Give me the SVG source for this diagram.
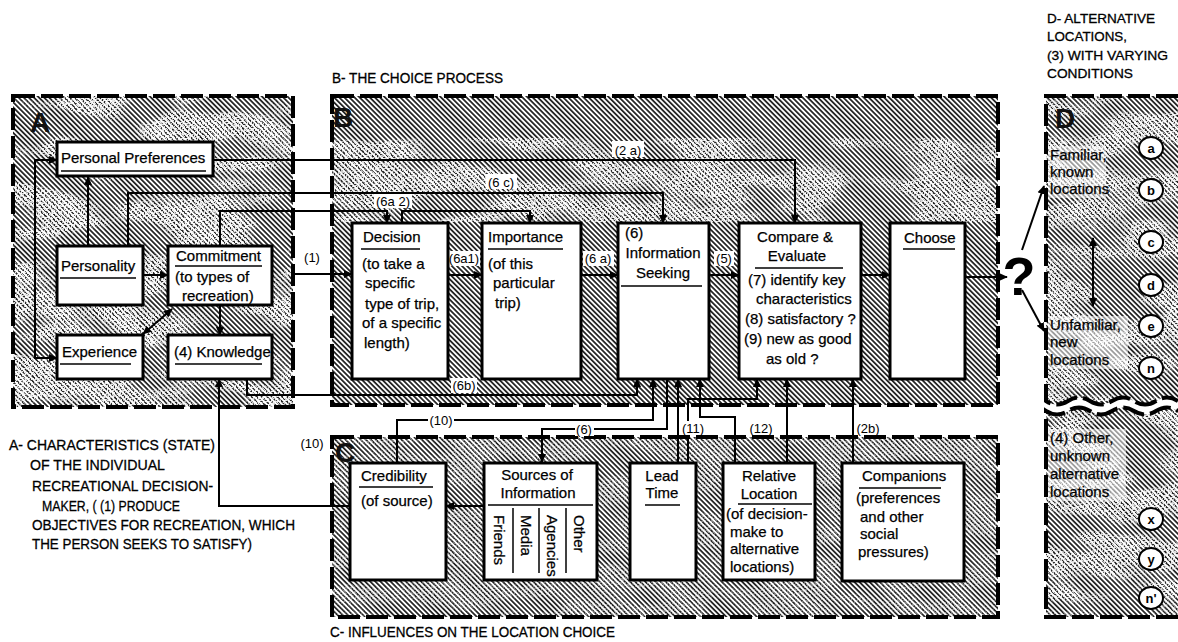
<svg xmlns="http://www.w3.org/2000/svg" width="1178" height="642" viewBox="0 0 1178 642">
<defs>
<pattern id="hatch" width="3.6" height="3.6" patternUnits="userSpaceOnUse" patternTransform="rotate(-45)">
<rect width="3.6" height="3.6" fill="#fff"/>
<line x1="1.8" y1="-1" x2="1.8" y2="5" stroke="#1a1a1a" stroke-width="1.7"/>
</pattern>
<filter id="speck" x="0" y="0" width="1" height="1">
<feTurbulence type="fractalNoise" baseFrequency="0.012 0.035" numOctaves="2" seed="4" result="blob"/>
<feTurbulence type="fractalNoise" baseFrequency="0.7" numOctaves="1" seed="9" result="fine"/>
<feColorMatrix in="blob" type="matrix" values="0 0 0 0 1 0 0 0 0 1 0 0 0 0 1 8 0 0 0 -3.4" result="blobA"/>
<feColorMatrix in="fine" type="matrix" values="0 0 0 0 1 0 0 0 0 1 0 0 0 0 1 10 0 0 0 -4.6" result="fineA"/>
<feComposite in="fineA" in2="blobA" operator="in"/>
</filter>
<marker id="ah" viewBox="0 0 10 10" refX="9" refY="5" markerWidth="9" markerHeight="9" markerUnits="userSpaceOnUse" orient="auto-start-reverse">
<path d="M0,0.5 L10,5 L0,9.5 z" fill="#000"/>
</marker>
<style>
.panel{fill:url(#hatch)}
.border{fill:none;stroke:#000;stroke-width:4;stroke-dasharray:22 6}
.box{fill:#fff;stroke:#000;stroke-width:3}
.ul{stroke:#000;stroke-width:1.5}
.c{fill:none;stroke:#000;stroke-width:2}
.a{marker-end:url(#ah)}
.b2{marker-start:url(#ah);marker-end:url(#ah)}
text{font-family:"Liberation Sans",Arial,sans-serif;fill:#000}
.t{font-size:15px;stroke:#000;stroke-width:0.25}
.l{font-size:13px}
.cap{font-size:15.5px;stroke:#000;stroke-width:0.3}
.capd{font-size:13.6px;stroke:#000;stroke-width:0.3}
.big{font-size:28px;font-weight:bold;fill:#111}
.lb{fill:#fff}
.mid{text-anchor:middle}
.circ{fill:#fff;stroke:#000;stroke-width:2}
.cl{font-size:13px;font-weight:bold;text-anchor:middle}
.haze{fill:#fff;opacity:0.55}
</style>
</defs>
<rect width="1178" height="642" fill="#fff"/>

<g id="panels">
<rect class="panel" x="13" y="96" width="280" height="311"/>
<rect class="panel" x="332" y="96" width="666" height="309"/>
<rect class="panel" x="332" y="437" width="666" height="180"/>
<path class="panel" d="M1046,96 H1178 V401 q-11,-7 -22,0 t-22,0 t-22,0 t-22,0 t-22,0 t-22,0 Z"/>
<path class="panel" d="M1046,617 H1178 V411 q-11,-7 -22,0 t-22,0 t-22,0 t-22,0 t-22,0 t-22,0 Z"/>
<rect x="13" y="96" width="280" height="311" fill="#fff" filter="url(#speck)" opacity="0.9"/>
<rect x="332" y="138" width="666" height="84" fill="#fff" filter="url(#speck)" opacity="0.85"/>
<rect x="332" y="437" width="666" height="180" fill="#fff" filter="url(#speck)" opacity="0.4"/>
<rect x="1046" y="96" width="132" height="305" fill="#fff" filter="url(#speck)" opacity="0.85"/>
<rect x="1046" y="411" width="132" height="206" fill="#fff" filter="url(#speck)" opacity="0.85"/>
<rect class="haze" x="1048" y="146" width="58" height="52"/>
<rect class="haze" x="1048" y="316" width="80" height="53"/>
<rect class="haze" x="1048" y="429" width="78" height="72"/>
<rect class="border" x="13" y="96" width="280" height="311"/>
<rect class="border" x="332" y="96" width="666" height="309"/>
<rect class="border" x="332" y="437" width="666" height="180"/>
<path class="border" d="M1178,96 H1046 V401 q11,7 22,0 t22,0 t22,0 t22,0 t22,0 t22,0"/>
<path class="border" d="M1178,617 H1046 V411 q11,7 22,0 t22,0 t22,0 t22,0 t22,0 t22,0"/>
<text class="big" x="30" y="132">A</text>
<text class="big" x="333" y="127">B</text>
<text class="big" x="335" y="462">C</text>
<text class="big" x="1055" y="128">D</text>
</g>

<g id="captions">
<text class="cap" x="332" y="83" textLength="171" lengthAdjust="spacingAndGlyphs">B- THE CHOICE PROCESS</text>
<text class="cap" x="9" y="450" textLength="206" lengthAdjust="spacingAndGlyphs">A- CHARACTERISTICS (STATE)</text>
<text class="cap" x="30" y="470" textLength="135" lengthAdjust="spacingAndGlyphs">OF THE INDIVIDUAL</text>
<text class="cap" x="32" y="491" textLength="181" lengthAdjust="spacingAndGlyphs">RECREATIONAL DECISION-</text>
<text class="cap" x="42" y="511" textLength="138" lengthAdjust="spacingAndGlyphs">MAKER, ( (1) PRODUCE</text>
<text class="cap" x="32" y="530" textLength="263" lengthAdjust="spacingAndGlyphs">OBJECTIVES FOR RECREATION, WHICH</text>
<text class="cap" x="32" y="549" textLength="220" lengthAdjust="spacingAndGlyphs">THE PERSON SEEKS TO SATISFY)</text>
<text class="cap" x="330" y="637" textLength="285" lengthAdjust="spacingAndGlyphs">C- INFLUENCES ON THE LOCATION CHOICE</text>
<text class="capd" x="1047" y="23" textLength="108" lengthAdjust="spacingAndGlyphs">D- ALTERNATIVE</text>
<text class="capd" x="1047" y="41" textLength="80" lengthAdjust="spacingAndGlyphs">LOCATIONS,</text>
<text class="capd" x="1047" y="60" textLength="121" lengthAdjust="spacingAndGlyphs">(3) WITH VARYING</text>
<text class="capd" x="1047" y="78" textLength="86" lengthAdjust="spacingAndGlyphs">CONDITIONS</text>
</g>

<g id="connectors">
<path class="c b2" d="M57,160 H35 V358 H57"/>
<path class="c a" d="M88,246 V177"/>
<path class="c a" d="M143,275 H168"/>
<path class="c b2" d="M172,309 L143,334"/>
<path class="c a" d="M220,305 V335"/>
<path class="c a" d="M293,274 H352"/>
<path class="c a" d="M213,160 H795 V223"/>
<path class="c a" d="M128,246 V193 H663 V223"/>
<path class="c a" d="M220,246 V211 H387 V223"/>
<path class="c a" d="M402,223 V211 H530 V223"/>
<path class="c a" d="M448,275 H482"/>
<path class="c a" d="M581,275 H618"/>
<path class="c a" d="M709,275 H739"/>
<path class="c a" d="M861,275 H890"/>
<path class="c a" d="M965,277 H1007"/>
<path class="c a" d="M247,379 V395 H637 V379"/>
<path class="c a" d="M397,463 V420 H653 V379"/>
<path class="c a" d="M667,379 V429 H542 V462"/>
<path class="c a" d="M678,462 V379"/>
<path class="c a" d="M688,462 V399 H757 V379"/>
<path class="c a" d="M735,462 V417 H700 V379"/>
<path class="c a" d="M787,462 V379"/>
<path class="c a" d="M853,462 V379"/>
<path class="c a" d="M484,506 H446"/>
<path class="c a" d="M350,506 H219 V379"/>
<path class="c a" d="M1022,250 L1044,186"/>
<path class="c a" d="M1022,290 L1044,331"/>
<path class="c b2" d="M1093,238 V306"/>
</g>

<g id="labels">
<rect class="lb" x="612" y="141" width="32" height="16"/><text class="l mid" x="628" y="155">(2 a)</text>
<rect class="lb" x="486" y="174" width="31" height="15"/><text class="l mid" x="501" y="187">(6 c)</text>
<rect class="lb" x="374" y="194" width="38" height="14"/><text class="l mid" x="393" y="206">(6a 2)</text>
<rect class="lb" x="449" y="251" width="31" height="15"/><text class="l mid" x="464" y="263">(6a1)</text>
<rect class="lb" x="583" y="251" width="31" height="15"/><text class="l mid" x="598" y="263">(6 a)</text>
<rect class="lb" x="714" y="251" width="20" height="15"/><text class="l mid" x="724" y="263">(5)</text>
<text class="l mid" x="312" y="262">(1)</text>
<rect class="lb" x="451" y="378" width="26" height="15"/><text class="l mid" x="464" y="390">(6b)</text>
<text class="l mid" x="312" y="448">(10)</text>
<rect class="lb" x="428" y="413" width="26" height="14"/><text class="l mid" x="441" y="425">(10)</text>
<rect class="lb" x="575" y="422" width="19" height="14"/><text class="l mid" x="584" y="434">(6)</text>
<rect class="lb" x="681" y="421" width="25" height="14"/><text class="l mid" x="693" y="433">(11)</text>
<text class="l mid" x="761" y="433">(12)</text>
<text class="l mid" x="868" y="433">(2b)</text>
</g>

<g id="node-personal-preferences">
<rect class="box" x="57" y="142" width="156" height="34"/>
<text class="t" x="61" y="163">Personal Preferences</text>
<line class="ul" x1="61" y1="171" x2="206" y2="171"/>
</g>
<g id="node-personality">
<rect class="box" x="57" y="246" width="86" height="59"/>
<text class="t" x="61" y="271">Personality</text>
<line class="ul" x1="60" y1="278" x2="136" y2="278"/>
</g>
<g id="node-commitment">
<rect class="box" x="168" y="246" width="104" height="59"/>
<text class="t" x="176" y="261">Commitment</text>
<line class="ul" x1="175" y1="266" x2="262" y2="266"/>
<text class="t" x="175" y="282">(to types of</text>
<text class="t" x="182" y="301">recreation)</text>
</g>
<g id="node-experience">
<rect class="box" x="57" y="335" width="86" height="44"/>
<text class="t" x="62" y="357">Experience</text>
<line class="ul" x1="60" y1="364" x2="131" y2="364"/>
</g>
<g id="node-knowledge">
<rect class="box" x="168" y="335" width="104" height="44"/>
<text class="t" x="174" y="357">(4) Knowledge</text>
<line class="ul" x1="175" y1="364" x2="262" y2="364"/>
</g>

<g id="node-decision">
<rect class="box" x="352" y="223" width="96" height="156"/>
<text class="t" x="363" y="242">Decision</text>
<line class="ul" x1="361" y1="249" x2="420" y2="249"/>
<text class="t" x="362" y="269">(to take a</text>
<text class="t" x="365" y="288">specific</text>
<text class="t" x="365" y="309">type of trip,</text>
<text class="t" x="362" y="328">of a specific</text>
<text class="t" x="364" y="348">length)</text>
</g>
<g id="node-importance">
<rect class="box" x="482" y="223" width="99" height="156"/>
<text class="t" x="488" y="242">Importance</text>
<line class="ul" x1="488" y1="249" x2="563" y2="249"/>
<text class="t" x="488" y="269">(of this</text>
<text class="t" x="493" y="288">particular</text>
<text class="t" x="495" y="308">trip)</text>
</g>
<g id="node-information-seeking">
<rect class="box" x="618" y="223" width="91" height="156"/>
<text class="t" x="625" y="238">(6)</text>
<text class="t mid" x="663" y="258">Information</text>
<text class="t mid" x="663" y="278">Seeking</text>
<line class="ul" x1="621" y1="286" x2="702" y2="286"/>
</g>
<g id="node-compare">
<rect class="box" x="739" y="223" width="122" height="156"/>
<text class="t mid" x="795" y="242">Compare &amp;</text>
<text class="t mid" x="797" y="261">Evaluate</text>
<line class="ul" x1="755" y1="268" x2="843" y2="268"/>
<text class="t" x="748" y="285">(7) identify key</text>
<text class="t" x="756" y="304">characteristics</text>
<text class="t" x="745" y="324">(8) satisfactory ?</text>
<text class="t" x="744" y="344">(9)  new as good</text>
<text class="t" x="766" y="364">as old ?</text>
</g>
<g id="node-choose">
<rect class="box" x="890" y="223" width="75" height="156"/>
<text class="t" x="904" y="243">Choose</text>
<line class="ul" x1="903" y1="249" x2="955" y2="249"/>
</g>

<g id="node-credibility">
<rect class="box" x="350" y="463" width="96" height="117"/>
<text class="t" x="361" y="481">Credibility</text>
<line class="ul" x1="359" y1="487" x2="433" y2="487"/>
<text class="t" x="361" y="506">(of source)</text>
</g>
<g id="node-sources">
<rect class="box" x="484" y="463" width="113" height="117"/>
<text class="t mid" x="537" y="480">Sources of</text>
<text class="t mid" x="538" y="498">Information</text>
<line class="ul" x1="488" y1="505" x2="593" y2="505"/>
<line class="ul" x1="513" y1="508" x2="513" y2="573"/>
<line class="ul" x1="539" y1="508" x2="539" y2="573"/>
<line class="ul" x1="566" y1="508" x2="566" y2="573"/>
<text class="t" transform="translate(494,515) rotate(90)">Friends</text>
<text class="t" transform="translate(521,515) rotate(90)">Media</text>
<text class="t" transform="translate(547,515) rotate(90)">Agencies</text>
<text class="t" transform="translate(574,515) rotate(90)">Other</text>
</g>
<g id="node-lead-time">
<rect class="box" x="630" y="463" width="66" height="117"/>
<text class="t mid" x="662" y="481">Lead</text>
<text class="t mid" x="662" y="498">Time</text>
<line class="ul" x1="645" y1="505" x2="680" y2="505"/>
</g>
<g id="node-relative-location">
<rect class="box" x="723" y="463" width="92" height="117"/>
<text class="t mid" x="769" y="481">Relative</text>
<text class="t mid" x="769" y="499">Location</text>
<line class="ul" x1="738" y1="504" x2="812" y2="504"/>
<text class="t" x="726" y="519">(of decision-</text>
<text class="t" x="730" y="537">make to</text>
<text class="t" x="730" y="554">alternative</text>
<text class="t" x="730" y="572">locations)</text>
</g>
<g id="node-companions">
<rect class="box" x="842" y="463" width="122" height="118"/>
<text class="t" x="862" y="481">Companions</text>
<line class="ul" x1="859" y1="488" x2="941" y2="488"/>
<text class="t" x="856" y="503">(preferences</text>
<text class="t" x="860" y="522">and other</text>
<text class="t" x="860" y="539">social</text>
<text class="t" x="858" y="557">pressures)</text>
</g>

<g id="node-question">
<text x="1019" y="295" font-size="54" font-weight="bold" text-anchor="middle">?</text>
</g>

<g id="node-alternatives">
<text class="t" x="1050" y="160">Familiar,</text>
<text class="t" x="1050" y="177">known</text>
<text class="t" x="1050" y="194">locations</text>
<text class="t" x="1050" y="330">Unfamiliar,</text>
<text class="t" x="1050" y="347">new</text>
<text class="t" x="1050" y="365">locations</text>
<text class="t" x="1050" y="443">(4) Other,</text>
<text class="t" x="1050" y="461">unknown</text>
<text class="t" x="1050" y="479">alternative</text>
<text class="t" x="1050" y="497">locations</text>
</g>
<g id="node-loc-a"><ellipse class="circ" cx="1151" cy="148" rx="12" ry="11"/><text class="cl" x="1151" y="153">a</text></g>
<g id="node-loc-b"><ellipse class="circ" cx="1151" cy="190" rx="12" ry="11"/><text class="cl" x="1151" y="195">b</text></g>
<g id="node-loc-c"><ellipse class="circ" cx="1151" cy="242" rx="12" ry="11"/><text class="cl" x="1151" y="247">c</text></g>
<g id="node-loc-d"><ellipse class="circ" cx="1151" cy="285" rx="12" ry="11"/><text class="cl" x="1151" y="290">d</text></g>
<g id="node-loc-e"><ellipse class="circ" cx="1151" cy="326" rx="12" ry="11"/><text class="cl" x="1151" y="331">e</text></g>
<g id="node-loc-n"><ellipse class="circ" cx="1151" cy="368" rx="12" ry="11"/><text class="cl" x="1151" y="373">n</text></g>
<g id="node-loc-x"><ellipse class="circ" cx="1151" cy="519" rx="12" ry="11"/><text class="cl" x="1151" y="524">x</text></g>
<g id="node-loc-y"><ellipse class="circ" cx="1151" cy="559" rx="12" ry="11"/><text class="cl" x="1151" y="564">y</text></g>
<g id="node-loc-n2"><ellipse class="circ" cx="1151" cy="598" rx="12" ry="11"/><text class="cl" x="1151" y="603">n'</text></g>
</svg>
